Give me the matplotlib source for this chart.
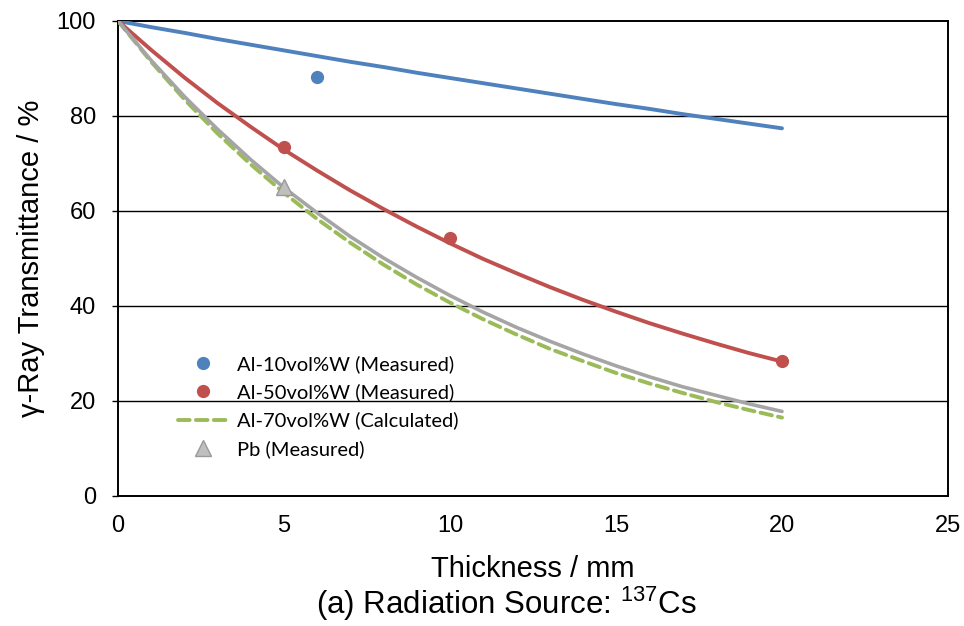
import numpy as np
import matplotlib.pyplot as plt
from matplotlib.lines import Line2D

# Dados (espessura em mm, transmitância em %)
x_curve = [0, 1, 2, 3, 4, 5, 6, 7, 8, 9, 10, 11, 12, 13, 14, 15, 16, 17, 18, 19, 20]
al10_curve = [100, 98.7, 97.5, 96.2, 95.0, 93.8, 92.6, 91.4, 90.3, 89.1, 88.0,
              86.9, 85.8, 84.7, 83.6, 82.5, 81.5, 80.4, 79.4, 78.4, 77.4]
al50_curve = [100, 93.9, 88.1, 82.7, 77.7, 72.9, 68.5, 64.3, 60.4, 56.7, 53.2,
              49.9, 46.9, 44.0, 41.3, 38.8, 36.4, 34.2, 32.1, 30.1, 28.3]
pb_curve = [100, 91.7, 84.1, 77.2, 70.8, 64.9, 59.6, 54.6, 50.1, 46.0, 42.2,
            38.7, 35.5, 32.6, 29.9, 27.4, 25.1, 23.0, 21.2, 19.4, 17.8]
al70_curve = [100, 91.4, 83.5, 76.3, 69.8, 63.8, 58.3, 53.3, 48.7, 44.5, 40.7,
              37.2, 34.0, 31.0, 28.4, 25.9, 23.7, 21.7, 19.8, 18.1, 16.5]

al10_x = [6.0]
al10_y = [88.2]
al50_x = [5, 10, 20]
al50_y = [73.5, 54.3, 28.4]
pb_x = [5]
pb_y = [65.0]

azul = '#4F81BD'
vermelho = '#C0504D'
verde = '#9BBB59'
cinza = '#A5A5A5'

plt.rcParams['font.family'] = ['Liberation Sans', 'DejaVu Sans']

fig = plt.figure(figsize=(9.64, 6.26), dpi=100)
ax = fig.add_axes([0.1224, 0.2077, 0.861, 0.7588])

# Grade horizontal
for yv in [20, 40, 60, 80]:
    ax.axhline(yv, color='black', lw=1.0, zorder=1)

ax.plot(x_curve, al10_curve, color=azul, lw=2.8, solid_capstyle='round', zorder=3)
ax.plot(x_curve, al50_curve, color=vermelho, lw=2.8, solid_capstyle='round', zorder=3)
ax.plot(x_curve, al70_curve, color=verde, lw=2.8, dashes=(3, 1.6), dash_capstyle='round', zorder=3)
ax.plot(x_curve, pb_curve, color=cinza, lw=2.6, solid_capstyle='round', zorder=4)

ax.plot(al10_x, al10_y, 'o', color=azul, ms=8.5, zorder=5)
ax.plot(al50_x, al50_y, 'o', color=vermelho, ms=8.5, zorder=5)
ax.plot(pb_x, pb_y, '^', color='#BFBFBF', mec='#9A9A9A', mew=1.0, ms=11, zorder=5)

ax.set_xlim(0, 25)
ax.set_ylim(0, 100)
ax.set_xticks([0, 5, 10, 15, 20, 25])
ax.set_yticks([0, 20, 40, 60, 80, 100])
ax.tick_params(axis='x', length=0, pad=14, labelsize=17)
ax.tick_params(axis='y', length=4, width=1, direction='out', pad=12, labelsize=17)
for s in ax.spines.values():
    s.set_linewidth(1.4)

ax.set_xlabel('Thickness / mm', fontsize=21, labelpad=13)
ax.set_ylabel('γ-Ray Transmittance / %', fontsize=21, labelpad=8)
fig.text(0.525, 0.019, r'(a) Radiation Source: $^{\mathregular{137}}$Cs',
         ha='center', va='baseline', fontsize=22.5)

handles = [
    Line2D([], [], ls='none', marker='o', color=azul, ms=8.5),
    Line2D([], [], ls='none', marker='o', color=vermelho, ms=8.5),
    Line2D([], [], color=verde, lw=2.8, dashes=(3, 1.6), dash_capstyle='round'),
    Line2D([], [], ls='none', marker='^', color='#BFBFBF', mec='#9A9A9A', ms=11),
]
labels = ['Al-10vol%W (Measured)', 'Al-50vol%W (Measured)',
          'Al-70vol%W (Calculated)', 'Pb (Measured)']
leg = ax.legend(handles, labels, loc='upper left', bbox_to_anchor=(0.05, 0.335),
                frameon=False, prop={'family': 'Lato', 'size': 14.5},
                handlelength=2.5, handletextpad=0.45, labelspacing=0.52)

plt.savefig('out.png', dpi=100)
